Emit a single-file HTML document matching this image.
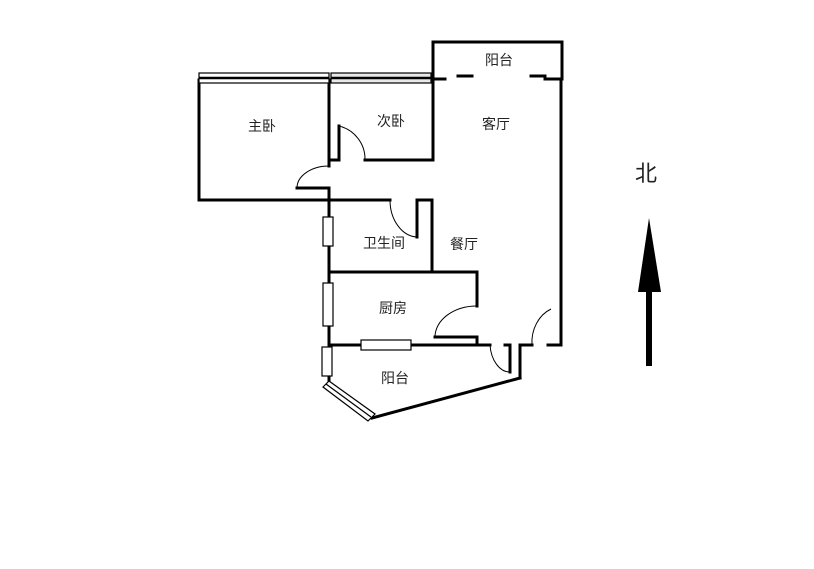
<!DOCTYPE html><html><head><meta charset="utf-8"><style>body{margin:0;background:#fff}svg{display:block}text{font-family:"Liberation Sans","Noto Sans CJK SC",sans-serif;font-size:14px;fill:#222}</style></head><body>
<svg width="814" height="569" viewBox="0 0 814 569">
<g stroke="#000" stroke-width="3" fill="none" stroke-linecap="square">
<path d="M433 79 L433 42 L562 42 L562 79"/>
<line x1="433" y1="79" x2="445" y2="79"/><line x1="545" y1="79" x2="562" y2="79"/>
<line x1="458" y1="76" x2="472" y2="76"/><line x1="531" y1="76" x2="545" y2="76"/>
<line x1="561" y1="79" x2="561" y2="345"/><line x1="548" y1="345" x2="561" y2="345"/>
<line x1="199" y1="80" x2="199" y2="200"/><line x1="199" y1="200" x2="329" y2="200"/>
<line x1="329" y1="80" x2="329" y2="166"/><line x1="329" y1="188" x2="329" y2="380"/>
<line x1="297" y1="188" x2="329" y2="188"/>
<line x1="433" y1="42" x2="433" y2="160"/><line x1="365" y1="160" x2="433" y2="160"/>
<line x1="329" y1="160" x2="339" y2="160"/><line x1="339" y1="126" x2="339" y2="160"/>
<line x1="329" y1="200" x2="390" y2="200"/><line x1="417" y1="200" x2="417" y2="237"/><line x1="417" y1="200" x2="432" y2="200"/><line x1="432" y1="200" x2="432" y2="272"/>
<line x1="329" y1="272" x2="477" y2="272"/><line x1="477" y1="272" x2="477" y2="306"/>
<line x1="435" y1="337" x2="477" y2="337"/><line x1="477" y1="337" x2="477" y2="345"/>
<line x1="329" y1="345" x2="490" y2="345"/>
<line x1="505" y1="345" x2="510" y2="345"/><line x1="510" y1="345" x2="510" y2="372"/>
<line x1="520" y1="345" x2="532" y2="345"/><line x1="520" y1="345" x2="520" y2="378"/>
<line x1="520" y1="378" x2="372" y2="418"/>
</g>
<g stroke="#000" stroke-width="1" fill="none">
<path d="M339 126 A34 34 0 0 1 365 160"/>
<path d="M329 166 A32 22 0 0 0 297 188"/>
<path d="M390 200 A28 37 0 0 0 417 237"/>
<path d="M477 306 A42 31 0 0 0 435 337"/>
<path d="M490 345 A20 30 0 0 0 510 372"/>
<path d="M551 309 A31 36 0 0 0 532 345"/>
</g>
<g stroke="#000" stroke-width="1.2" fill="#fff">
<rect x="199" y="73" width="130" height="10"/><line x1="199" y1="78" x2="329" y2="78" stroke-width="2.5"/>
<rect x="331" y="73" width="100" height="10" fill="#e8e8e8"/><line x1="331" y1="78" x2="431" y2="78" stroke-width="2.5"/>
<rect x="323" y="217" width="10" height="29"/>
<rect x="323" y="283" width="10" height="43"/>
<rect x="322" y="347" width="10" height="29"/>
<rect x="361" y="340" width="50" height="10"/>
<polygon points="329,381 375,414 368,421 323,387"/>
<line x1="326" y1="384" x2="371" y2="417"/>
</g>
<text x="248" y="131">主卧</text><text x="377" y="126">次卧</text><text x="482" y="129">客厅</text>
<text x="485" y="65">阳台</text><text x="363" y="248">卫生间</text><text x="450" y="249">餐厅</text>
<text x="379" y="313">厨房</text><text x="381" y="383">阳台</text>
<text x="635" y="181" style="font-size:22px">北</text>
<rect x="646" y="285" width="6" height="81" fill="#000"/>
<polygon points="638,292 661,292 649,218" fill="#000"/>
</svg></body></html>
